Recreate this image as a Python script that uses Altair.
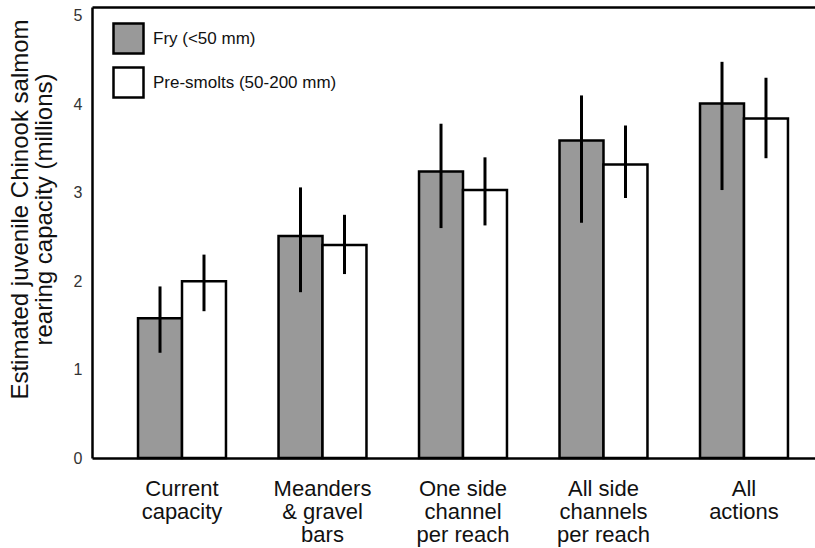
import altair as alt
import pandas as pd

categories = [
    "Current\ncapacity",
    "Meanders\n& gravel\nbars",
    "One side\nchannel\nper reach",
    "All side\nchannels\nper reach",
    "All\nactions",
]
series = ["Fry (<50 mm)", "Pre-smolts (50-200 mm)"]

fry_mean = [1.58, 2.51, 3.24, 3.59, 4.01]
fry_lo = [1.19, 1.875, 2.60, 2.66, 3.03]
fry_hi = [1.94, 3.06, 3.78, 4.10, 4.48]

pre_mean = [2.00, 2.41, 3.03, 3.32, 3.84]
pre_lo = [1.66, 2.08, 2.63, 2.94, 3.39]
pre_hi = [2.30, 2.75, 3.40, 3.76, 4.30]

y_ticks = [0, 1, 2, 3, 4, 5]

rows = []
for i, c in enumerate(categories):
    rows.append({"cat": c, "series": series[0], "v": fry_mean[i], "lo": fry_lo[i], "hi": fry_hi[i]})
    rows.append({"cat": c, "series": series[1], "v": pre_mean[i], "lo": pre_lo[i], "hi": pre_hi[i]})
df = pd.DataFrame(rows)

FONT = "Liberation Sans"
W, H = 723, 451

x_scale = alt.Scale(paddingInner=0.374, paddingOuter=0.26, align=0.63)

x_enc = alt.X(
    "cat:N",
    sort=categories,
    scale=x_scale,
    axis=alt.Axis(
        title=None,
        labelExpr="split(datum.value, '\\n')",
        labelAngle=0,
        labelFontSize=22,
        labelFont=FONT,
        labelColor="#111111",
        labelLineHeight=23,
        labelPadding=20,
        ticks=False,
        domain=True,
        domainColor="black",
        domainWidth=2.5,
        labelBaseline="top",
    ),
)
xoff = alt.XOffset(
    "series:N",
    sort=series,
    scale=alt.Scale(paddingInner=0, paddingOuter=0),
)
y_scale = alt.Scale(domain=[0, 5.1], nice=False, zero=True)

bars = alt.Chart(df).mark_bar(stroke="black", strokeWidth=2.5).encode(
    x=x_enc,
    xOffset=xoff,
    y=alt.Y(
        "v:Q",
        scale=y_scale,
        axis=alt.Axis(
            values=y_ticks,
            format="d",
            title=["Estimated juvenile Chinook salmom", "rearing  capacity (millions)"],
            titleFontSize=24,
            titleFont=FONT,
            titleFontWeight="normal",
            titleColor="#111111",
            titleLineHeight=24,
            titlePadding=17,
            titleY=202,
            labelFontSize=16,
            labelFont=FONT,
            labelColor="#333333",
            labelPadding=10,
            ticks=False,
            domain=True,
            domainColor="black",
            domainWidth=2.5,
            grid=False,
        ),
    ),
    fill=alt.Fill(
        "series:N",
        sort=series,
        scale=alt.Scale(domain=series, range=["#999999", "#ffffff"]),
        legend=alt.Legend(
            title=None,
            orient="none",
            legendX=20,
            legendY=15,
            symbolType="square",
            symbolSize=900,
            symbolStrokeColor="black",
            symbolStrokeWidth=2.5,
            labelFontSize=17,
            labelFont=FONT,
            labelColor="#111111",
            labelOffset=8,
            labelLimit=400,
            rowPadding=3,
            padding=0,
        ),
    ),
)

errs = alt.Chart(df).mark_rule(color="black", strokeWidth=3).encode(
    x=alt.X(
        "cat:N",
        sort=categories,
        axis=alt.Axis(
            orient="top",
            labels=False,
            ticks=False,
            title=None,
            domain=True,
            domainColor="black",
            domainWidth=2.5,
        ),
    ),
    xOffset=alt.XOffset("series:N", sort=series),
    y=alt.Y("lo:Q", scale=y_scale),
    y2="hi:Q",
)

chart = (
    alt.layer(bars, errs)
    .resolve_axis(x="independent")
    .properties(
        width=W,
        height=H,
        autosize=alt.AutoSizeParams(type="none"),
        padding={"left": 92, "top": 7, "right": 0, "bottom": 90},
        background="white",
    )
    .configure_view(stroke=None)
)

chart.save("out.html", embed_options={"renderer": "svg", "actions": False})
